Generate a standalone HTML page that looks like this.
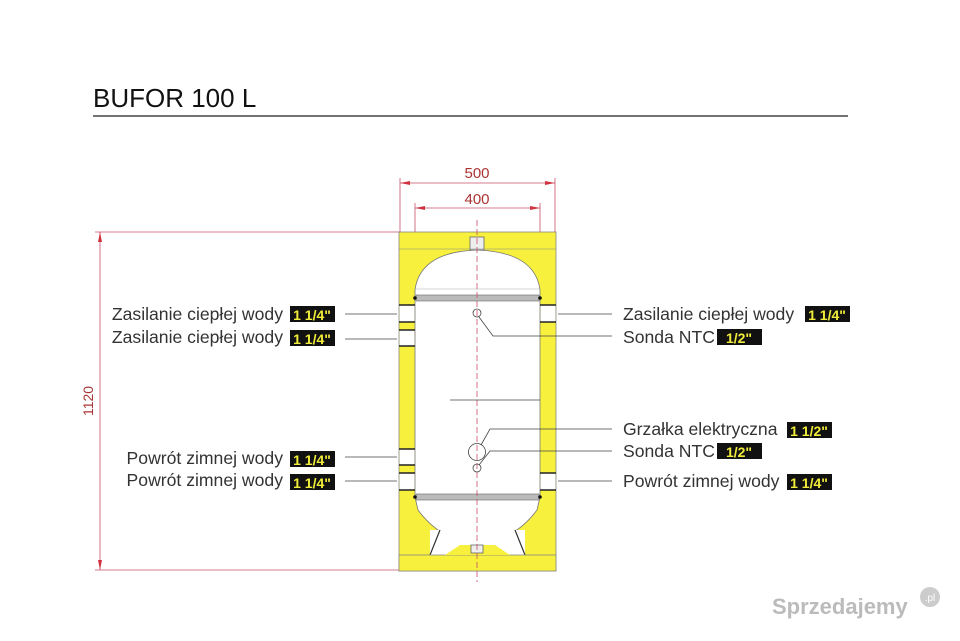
<!DOCTYPE html>
<html><head><meta charset="utf-8"><style>
html,body{margin:0;padding:0;background:#fff;}
svg{display:block;font-family:"Liberation Sans",sans-serif;}
.t{font-size:17.6px;fill:#333;}
.b{font-size:14px;font-weight:bold;fill:#f2ec3a;}
</style></head><body>
<svg width="960" height="641" viewBox="0 0 960 641">
<text x="93" y="107" font-size="26" fill="#111">BUFOR 100 L</text>
<line x1="93" y1="116" x2="848" y2="116" stroke="#222" stroke-width="1.2"/>

<g stroke="#c9506a" stroke-width="0.8" fill="none">
<line x1="400" y1="183" x2="555" y2="183"/>
<line x1="415" y1="208" x2="540" y2="208"/>
<line x1="400" y1="178" x2="400" y2="232"/>
<line x1="555" y1="178" x2="555" y2="232"/>
<line x1="415" y1="203" x2="415" y2="260"/>
<line x1="540" y1="203" x2="540" y2="260"/>
<line x1="100" y1="232" x2="100" y2="570"/>
<line x1="95" y1="232" x2="400" y2="232"/>
<line x1="95" y1="570" x2="400" y2="570"/>
</g>
<g fill="#d0323f">
<polygon points="400,183 410,181 410,185"/><polygon points="555,183 545,181 545,185"/>
<polygon points="415,208 425,206 425,210"/><polygon points="540,208 530,206 530,210"/>
<polygon points="100,232 98,242 102,242"/><polygon points="100,570 98,560 102,560"/>
</g>
<text x="477" y="178" text-anchor="middle" font-size="15" fill="#a33">500</text>
<text x="477" y="204" text-anchor="middle" font-size="15" fill="#a33">400</text>
<text transform="translate(93,401) rotate(-90)" text-anchor="middle" font-size="14" fill="#a33">1120</text>

<rect x="399" y="232" width="157" height="339" fill="#f7f03c" stroke="#888" stroke-width="0.8"/>
<path d="M415,300 L415,290 Q420,252 477,250 Q535,252 540,290 L540,300 Z" fill="#fff" stroke="#777" stroke-width="0.8"/>
<rect x="415" y="298" width="125" height="199" fill="#fff"/>
<line x1="415" y1="298" x2="415" y2="497" stroke="#777" stroke-width="0.8"/>
<line x1="540" y1="298" x2="540" y2="497" stroke="#777" stroke-width="0.8"/>
<path d="M415,497 L418,510 Q440,540 477,545 Q515,540 537,510 L540,497 Z" fill="#fff" stroke="#777" stroke-width="0.8"/>
<rect x="430" y="530" width="95" height="25" fill="#fff"/>
<path d="M430,555 L440,530 M525,555 L515,530" stroke="#333" stroke-width="1.2"/>
<rect x="399" y="555" width="157" height="16" fill="#f7f03c" stroke="#888" stroke-width="0.8"/>
<path d="M445,555 L460,545 L495,545 L510,555 Z" fill="#f7f03c"/>
<rect x="470" y="237" width="14" height="13" fill="#eee" stroke="#666" stroke-width="0.8"/>
<rect x="471" y="545" width="12" height="8" fill="#eee" stroke="#666" stroke-width="0.8"/>
<line x1="399" y1="249" x2="556" y2="249" stroke="#888" stroke-width="0.6"/>
<line x1="415" y1="289" x2="540" y2="289" stroke="#aaa" stroke-width="0.6"/>
<rect x="416" y="295" width="123" height="6" fill="#bbb" stroke="#666" stroke-width="0.6"/>
<rect x="416" y="494" width="123" height="6" fill="#bbb" stroke="#666" stroke-width="0.6"/>
<circle cx="415" cy="298" r="1.8" fill="#111"/><circle cx="540" cy="298" r="1.8" fill="#111"/>
<circle cx="415" cy="497" r="1.8" fill="#111"/><circle cx="540" cy="497" r="1.8" fill="#111"/>
<line x1="477" y1="220" x2="477" y2="582" stroke="#c9506a" stroke-width="0.8" stroke-dasharray="6,3"/>

<g fill="#fff">
<rect x="399.5" y="305" width="15" height="17"/>
<rect x="399.5" y="330" width="15" height="16"/>
<rect x="399.5" y="449" width="15" height="16"/>
<rect x="399.5" y="473" width="15" height="17"/>
<rect x="540.5" y="305" width="15" height="17"/>
<rect x="540.5" y="473" width="15" height="17"/>
</g>
<g stroke="#222" stroke-width="1.4">
<path d="M399,305H415M399,322H415M399,330H415M399,346H415M399,449H415M399,465H415M399,473H415M399,490H415M540,305H556M540,322H556M540,473H556M540,490H556"/>
</g>

<g stroke="#444" stroke-width="0.8" fill="none">
<line x1="345" y1="314" x2="397" y2="314"/>
<line x1="345" y1="339" x2="397" y2="339"/>
<line x1="345" y1="457" x2="397" y2="457"/>
<line x1="345" y1="481" x2="397" y2="481"/>
<line x1="558" y1="314" x2="612" y2="314"/>
<line x1="558" y1="481" x2="612" y2="481"/>
<polyline points="479,317 493,336 612,336"/>
<polyline points="481,445 490,429 612,429"/>
<polyline points="479,465 490,451 612,451"/>
<line x1="450" y1="400" x2="540" y2="400"/>
<circle cx="477" cy="313" r="4"/>
<circle cx="477" cy="452" r="8.5"/>
<circle cx="477" cy="468" r="4"/>
</g>

<g class="t" text-anchor="end">
<text x="283" y="320">Zasilanie ciepłej wody</text>
<text x="283" y="343">Zasilanie ciepłej wody</text>
<text x="283" y="464">Powrót zimnej wody</text>
<text x="283" y="486">Powrót zimnej wody</text>
</g>
<g fill="#111">
<rect x="290" y="306" width="45" height="16"/>
<rect x="290" y="330" width="45" height="16"/>
<rect x="290" y="451" width="45" height="16"/>
<rect x="290" y="474" width="45" height="16"/>
<rect x="805" y="306" width="45" height="16"/>
<rect x="717" y="329" width="45" height="16"/>
<rect x="787" y="422" width="45" height="16"/>
<rect x="717" y="443" width="45" height="16"/>
<rect x="787" y="474" width="45" height="16"/>
</g>
<g class="b" text-anchor="middle">
<text x="312" y="320">1 1/4"</text>
<text x="312" y="344">1 1/4"</text>
<text x="312" y="465">1 1/4"</text>
<text x="312" y="488">1 1/4"</text>
<text x="827" y="320">1 1/4"</text>
<text x="739" y="343">1/2"</text>
<text x="809" y="436">1 1/2"</text>
<text x="739" y="457">1/2"</text>
<text x="809" y="488">1 1/4"</text>
</g>
<g class="t">
<text x="623" y="320">Zasilanie ciepłej wody</text>
<text x="623" y="343">Sonda NTC</text>
<text x="623" y="435">Grzałka elektryczna</text>
<text x="623" y="457">Sonda NTC</text>
<text x="623" y="487">Powrót zimnej wody</text>
</g>

<text x="772" y="614" font-size="22" fill="#bbb" font-weight="bold">Sprzedajemy</text>
<circle cx="930" cy="597" r="10" fill="#ccc"/>
<text x="930" y="601" font-size="10" fill="#fff" text-anchor="middle">.pl</text>
</svg>
</body></html>
